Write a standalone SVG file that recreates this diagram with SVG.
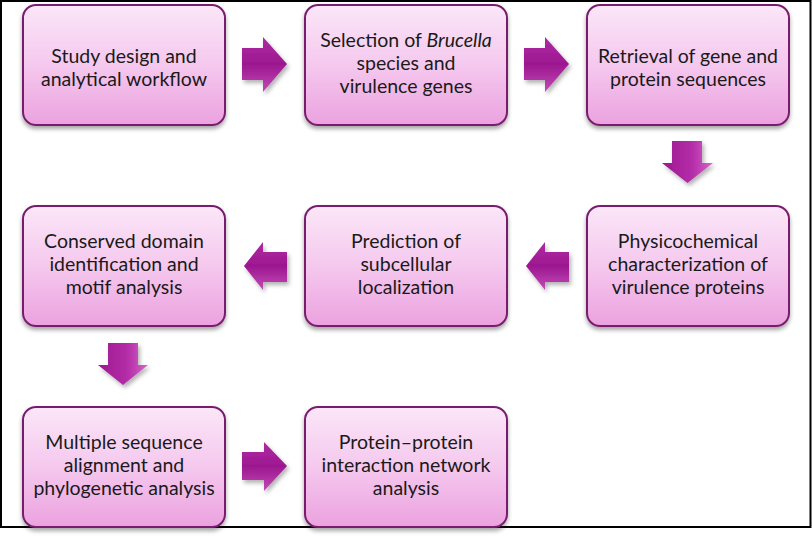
<svg xmlns="http://www.w3.org/2000/svg" width="812" height="538" viewBox="0 0 812 538">
<defs>
<linearGradient id="boxg" x1="0" y1="0" x2="0" y2="1">
<stop offset="0" stop-color="#fbe6f8"/>
<stop offset="0.5" stop-color="#f5c8ee"/>
<stop offset="1" stop-color="#eba2df"/>
</linearGradient>
<linearGradient id="arrh" x1="0" y1="0" x2="0" y2="1">
<stop offset="0" stop-color="#b02aa4"/>
<stop offset="0.5" stop-color="#9c1890"/>
<stop offset="1" stop-color="#c24ab6"/>
</linearGradient>
<linearGradient id="arrv" x1="0" y1="0" x2="1" y2="0">
<stop offset="0" stop-color="#9c1890"/>
<stop offset="0.6" stop-color="#b42ea8"/>
<stop offset="1" stop-color="#d866cc"/>
</linearGradient>
<filter id="sh" x="-10%" y="-10%" width="120%" height="130%">
<feDropShadow dx="0" dy="3" stdDeviation="2" flood-color="#000" flood-opacity="0.35"/>
</filter>
<filter id="ash" x="-20%" y="-20%" width="150%" height="150%">
<feDropShadow dx="2" dy="3" stdDeviation="2" flood-color="#000" flood-opacity="0.3"/>
</filter>
</defs>
<style>
.box{fill:url(#boxg);stroke:#7a1f6e;stroke-width:2;filter:url(#sh)}
.t{font-family:Lato,"Liberation Sans",sans-serif;font-size:19.5px;fill:#1a1a1a;text-anchor:middle}
.ah{fill:url(#arrh);filter:url(#ash)}
.av{fill:url(#arrv);filter:url(#ash)}
</style>
<rect x="0" y="0" width="812" height="538" fill="#fff"/>
<rect x="1" y="1" width="809.5" height="526" fill="none" stroke="#000" stroke-width="2"/>

<g id="connectors">
<path class="ah" d="M242,48 H263 V37 L287,64 L263,92 V80 H242 Z"/>
<path class="ah" d="M524,48 H545 V37 L569,64 L545,92 V80 H524 Z"/>
<path class="av" d="M672,141 H702 V163 H713 L687.5,183 L662,163 H672 Z"/>
<path class="ah" d="M569,252 H545 V242 L526,266 L545,290 V282 H569 Z"/>
<path class="ah" d="M287,252 H263 V242 L244,266 L263,290 V282 H287 Z"/>
<path class="av" d="M108,343 H138 V365 H148 L123,385 L98,365 H108 Z"/>
<path class="ah" d="M242,452 H264 V442 L287,466 L264,491 V480 H242 Z"/>
</g>

<g id="n1"><rect class="box" x="23" y="5" width="202" height="120" rx="13"/>
<text class="t" x="124" y="63">Study design and</text>
<text class="t" x="124" y="86">analytical workflow</text></g>

<g id="n2"><rect class="box" x="305" y="5" width="202" height="120" rx="13"/>
<text class="t" x="406" y="47">Selection of <tspan font-style="italic">Brucella</tspan></text>
<text class="t" x="406" y="70">species and</text>
<text class="t" x="406" y="93">virulence genes</text></g>

<g id="n3"><rect class="box" x="587" y="5" width="202" height="120" rx="13"/>
<text class="t" x="688" y="63">Retrieval of gene and</text>
<text class="t" x="688" y="86">protein sequences</text></g>

<g id="n4"><rect class="box" x="587" y="206" width="202" height="120" rx="13"/>
<text class="t" x="688" y="248">Physicochemical</text>
<text class="t" x="688" y="271">characterization of</text>
<text class="t" x="688" y="294">virulence proteins</text></g>

<g id="n5"><rect class="box" x="305" y="206" width="202" height="120" rx="13"/>
<text class="t" x="406" y="248">Prediction of</text>
<text class="t" x="406" y="271">subcellular</text>
<text class="t" x="406" y="294">localization</text></g>

<g id="n6"><rect class="box" x="23" y="206" width="202" height="120" rx="13"/>
<text class="t" x="124" y="248">Conserved domain</text>
<text class="t" x="124" y="271">identification and</text>
<text class="t" x="124" y="294">motif analysis</text></g>

<g id="n7"><rect class="box" x="23" y="407" width="202" height="120" rx="13"/>
<text class="t" x="124" y="449">Multiple sequence</text>
<text class="t" x="124" y="472">alignment and</text>
<text class="t" x="124" y="495">phylogenetic analysis</text></g>

<g id="n8"><rect class="box" x="305" y="407" width="202" height="120" rx="13"/>
<text class="t" x="406" y="449">Protein–protein</text>
<text class="t" x="406" y="472">interaction network</text>
<text class="t" x="406" y="495">analysis</text></g>
</svg>
